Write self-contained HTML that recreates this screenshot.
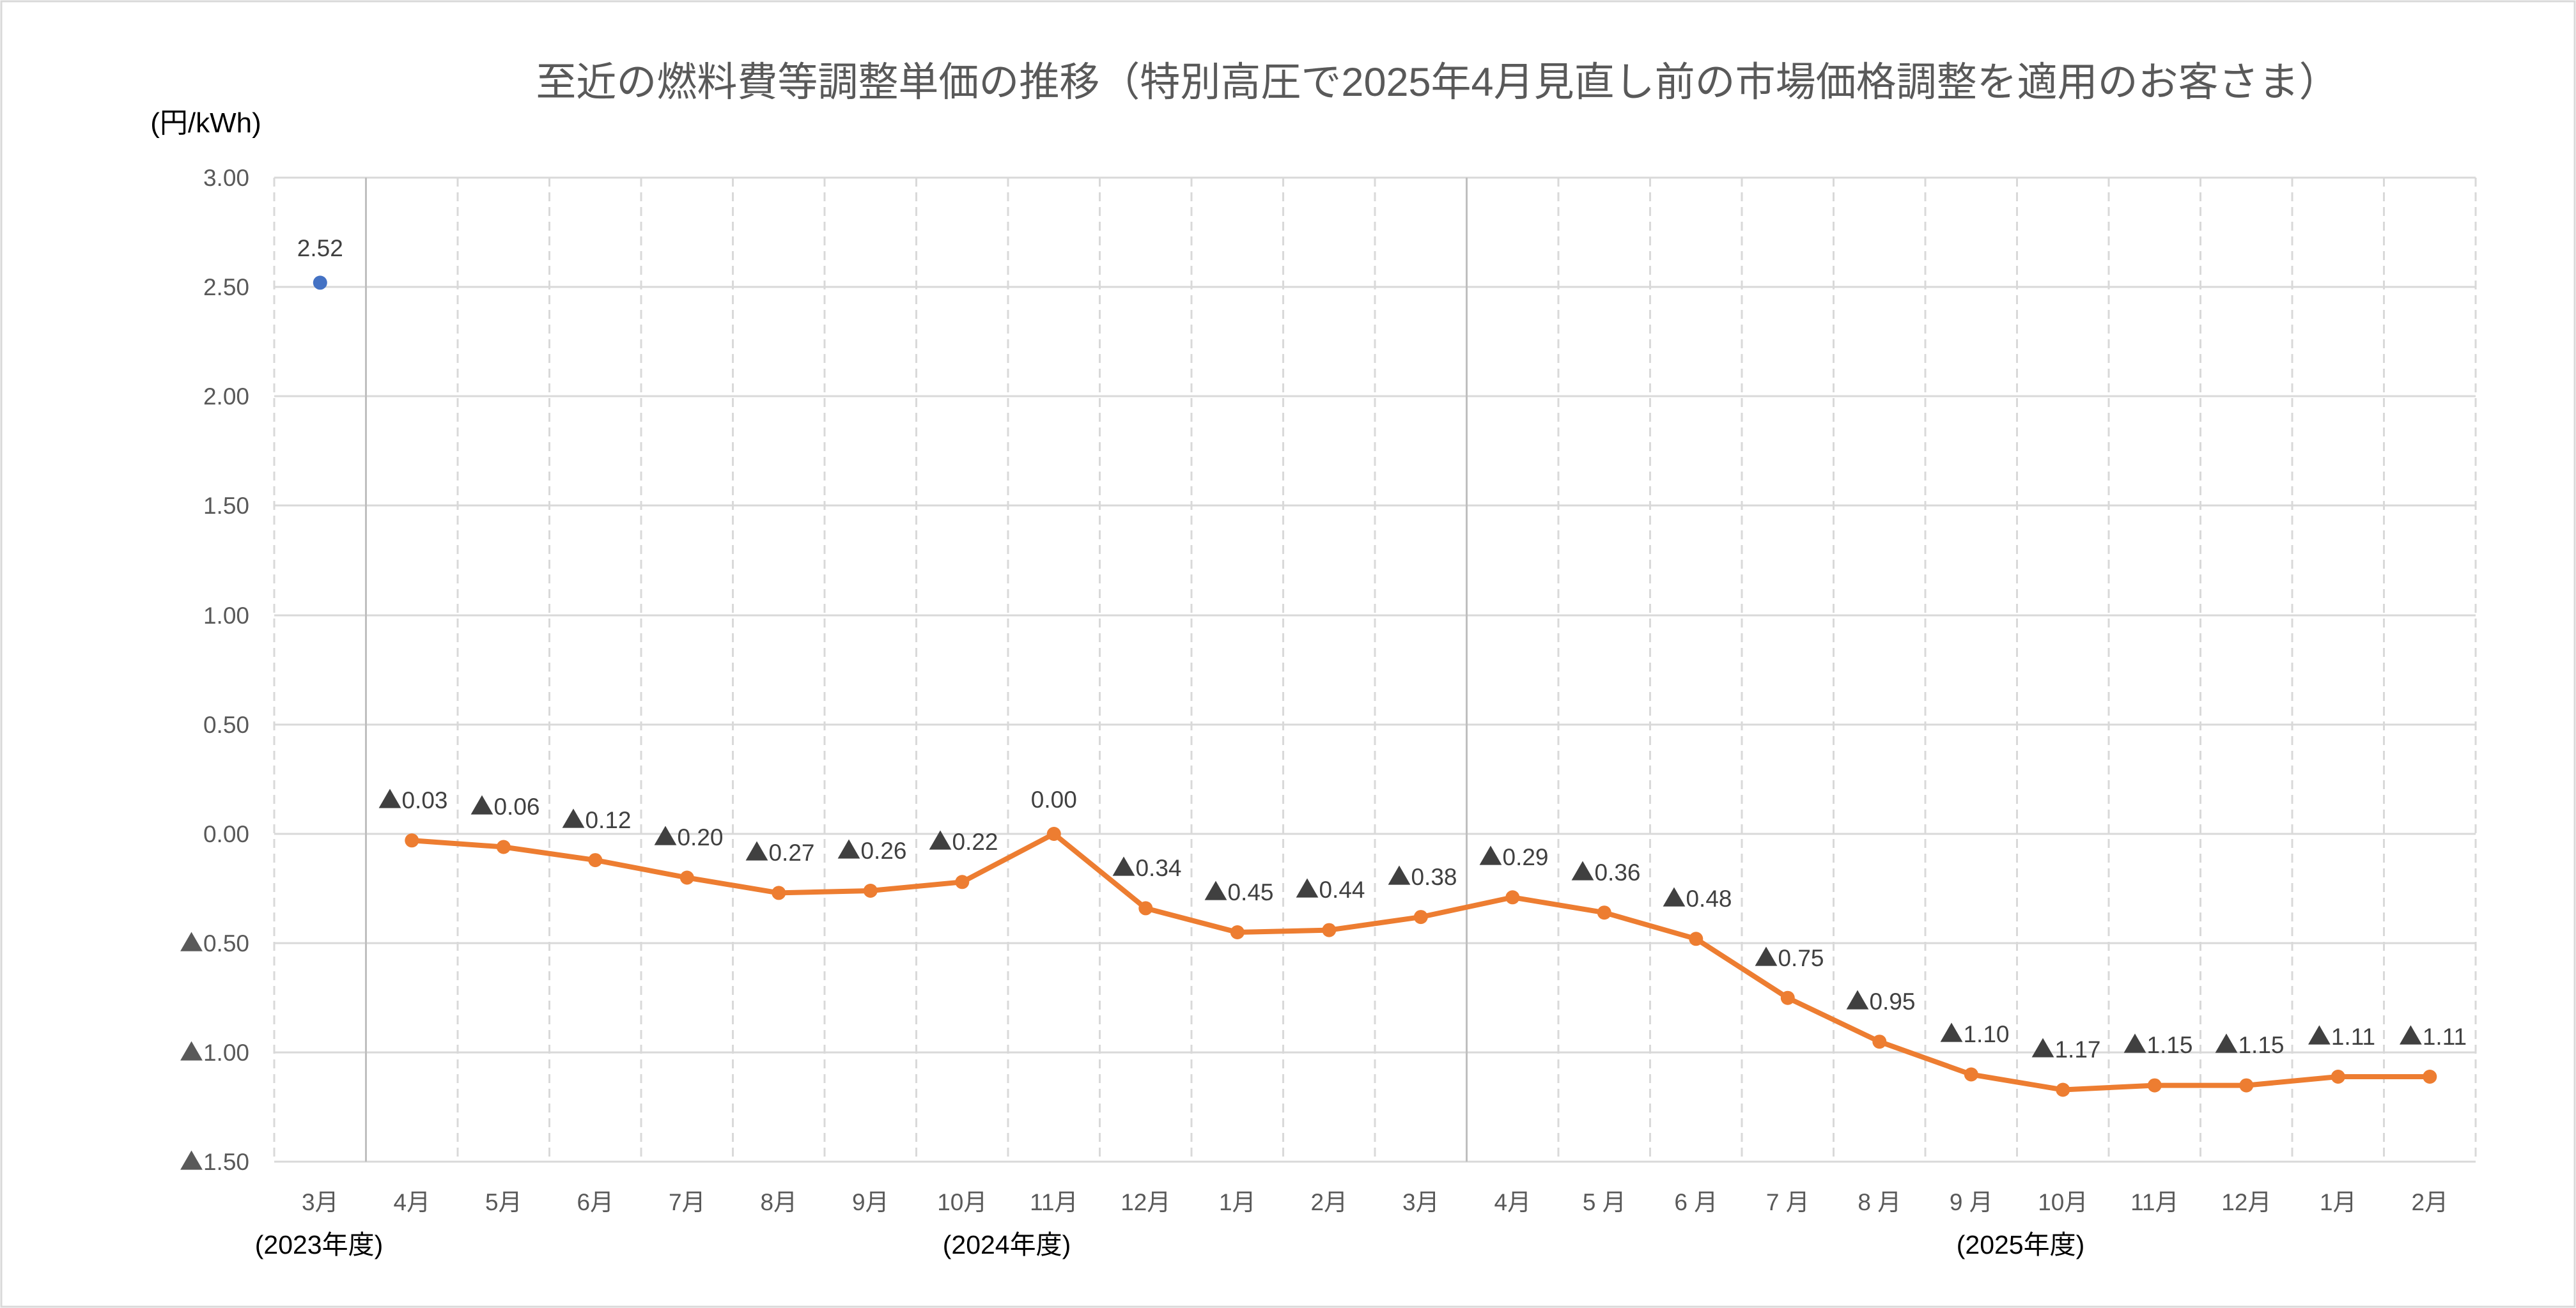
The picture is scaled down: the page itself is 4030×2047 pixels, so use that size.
<!DOCTYPE html>
<html><head><meta charset="utf-8"><style>
html,body{margin:0;padding:0;background:#fff}
svg{display:block}
text{font-family:"Liberation Sans","Noto Sans CJK JP",sans-serif}
.t{font-family:"Noto Sans CJK JP",sans-serif}
</style></head><body>
<svg width="4030" height="2047" viewBox="0 0 4030 2047" xmlns="http://www.w3.org/2000/svg">
<rect x="2" y="2" width="4026" height="2043" fill="#fff" stroke="#d9d9d9" stroke-width="3"/>
<text x="2249" y="150" font-size="63" fill="#595959" text-anchor="middle">至近の燃料費等調整単価の推移（特別高圧で2025年4月見直し前の市場価格調整を適用のお客さま）</text>
<text x="322" y="207" font-size="44" fill="#000" text-anchor="middle">(円/kWh)</text>
<g stroke="#d9d9d9" stroke-width="3">
<line x1="429" y1="278" x2="3873" y2="278"/><line x1="429" y1="449" x2="3873" y2="449"/><line x1="429" y1="620" x2="3873" y2="620"/><line x1="429" y1="791" x2="3873" y2="791"/><line x1="429" y1="963" x2="3873" y2="963"/><line x1="429" y1="1134" x2="3873" y2="1134"/><line x1="429" y1="1305" x2="3873" y2="1305"/><line x1="429" y1="1476" x2="3873" y2="1476"/><line x1="429" y1="1647" x2="3873" y2="1647"/><line x1="429" y1="1818" x2="3873" y2="1818"/>
</g>
<g stroke="#d9d9d9" stroke-width="3" stroke-dasharray="14,9">
<line x1="429" y1="278" x2="429" y2="1818"/><line x1="716" y1="278" x2="716" y2="1818"/><line x1="859.5" y1="278" x2="859.5" y2="1818"/><line x1="1003" y1="278" x2="1003" y2="1818"/><line x1="1146.5" y1="278" x2="1146.5" y2="1818"/><line x1="1290" y1="278" x2="1290" y2="1818"/><line x1="1433.5" y1="278" x2="1433.5" y2="1818"/><line x1="1577" y1="278" x2="1577" y2="1818"/><line x1="1720.5" y1="278" x2="1720.5" y2="1818"/><line x1="1864" y1="278" x2="1864" y2="1818"/><line x1="2007.5" y1="278" x2="2007.5" y2="1818"/><line x1="2151" y1="278" x2="2151" y2="1818"/><line x1="2438" y1="278" x2="2438" y2="1818"/><line x1="2581.5" y1="278" x2="2581.5" y2="1818"/><line x1="2725" y1="278" x2="2725" y2="1818"/><line x1="2868.5" y1="278" x2="2868.5" y2="1818"/><line x1="3012" y1="278" x2="3012" y2="1818"/><line x1="3155.5" y1="278" x2="3155.5" y2="1818"/><line x1="3299" y1="278" x2="3299" y2="1818"/><line x1="3442.5" y1="278" x2="3442.5" y2="1818"/><line x1="3586" y1="278" x2="3586" y2="1818"/><line x1="3729.5" y1="278" x2="3729.5" y2="1818"/><line x1="3873" y1="278" x2="3873" y2="1818"/>
</g>
<g stroke="#bfbfbf" stroke-width="3">
<line x1="572.5" y1="278" x2="572.5" y2="1818"/><line x1="2294.5" y1="278" x2="2294.5" y2="1818"/>
</g>
<g font-size="37" fill="#595959" text-anchor="end">
<text x="390" y="291">3.00</text><text x="390" y="462">2.50</text><text x="390" y="633">2.00</text><text x="390" y="804">1.50</text><text x="390" y="976">1.00</text><text x="390" y="1147">0.50</text><text x="390" y="1318">0.00</text><text x="390" y="1489"><tspan class="t">▲</tspan>0.50</text><text x="390" y="1660"><tspan class="t">▲</tspan>1.00</text><text x="390" y="1831"><tspan class="t">▲</tspan>1.50</text>
</g>
<g font-size="37" fill="#595959" text-anchor="middle">
<text x="500.8" y="1894">3月</text><text x="644.3" y="1894">4月</text><text x="787.8" y="1894">5月</text><text x="931.3" y="1894">6月</text><text x="1074.8" y="1894">7月</text><text x="1218.3" y="1894">8月</text><text x="1361.8" y="1894">9月</text><text x="1505.3" y="1894">10月</text><text x="1648.8" y="1894">11月</text><text x="1792.3" y="1894">12月</text><text x="1935.8" y="1894">1月</text><text x="2079.3" y="1894">2月</text><text x="2222.8" y="1894">3月</text><text x="2366.3" y="1894">4月</text><text x="2509.8" y="1894">5 月</text><text x="2653.3" y="1894">6 月</text><text x="2796.8" y="1894">7 月</text><text x="2940.3" y="1894">8 月</text><text x="3083.8" y="1894">9 月</text><text x="3227.3" y="1894">10月</text><text x="3370.8" y="1894">11月</text><text x="3514.3" y="1894">12月</text><text x="3657.8" y="1894">1月</text><text x="3801.3" y="1894">2月</text>
</g>
<g font-size="41" fill="#000" text-anchor="middle">
<text x="499" y="1962">(2023年度)</text><text x="1575" y="1962">(2024年度)</text><text x="3161" y="1962">(2025年度)</text>
</g>
<polyline fill="none" stroke="#ed7d31" stroke-width="8" stroke-linejoin="round" points="644.3,1315.3 787.8,1325.5 931.3,1346.1 1074.8,1373.5 1218.3,1397.4 1361.8,1394.0 1505.3,1380.3 1648.8,1305 1792.3,1421.4 1935.8,1459.0 2079.3,1455.6 2222.8,1435.1 2366.3,1404.3 2509.8,1428.2 2653.3,1469.3 2796.8,1561.7 2940.3,1630.2 3083.8,1681.5 3227.3,1705.5 3370.8,1698.6 3514.3,1698.6 3657.8,1685.0 3801.3,1685.0"/>
<g fill="#ed7d31">
<circle cx="644.3" cy="1315.3" r="11"/><circle cx="787.8" cy="1325.5" r="11"/><circle cx="931.3" cy="1346.1" r="11"/><circle cx="1074.8" cy="1373.5" r="11"/><circle cx="1218.3" cy="1397.4" r="11"/><circle cx="1361.8" cy="1394.0" r="11"/><circle cx="1505.3" cy="1380.3" r="11"/><circle cx="1648.8" cy="1305" r="11"/><circle cx="1792.3" cy="1421.4" r="11"/><circle cx="1935.8" cy="1459.0" r="11"/><circle cx="2079.3" cy="1455.6" r="11"/><circle cx="2222.8" cy="1435.1" r="11"/><circle cx="2366.3" cy="1404.3" r="11"/><circle cx="2509.8" cy="1428.2" r="11"/><circle cx="2653.3" cy="1469.3" r="11"/><circle cx="2796.8" cy="1561.7" r="11"/><circle cx="2940.3" cy="1630.2" r="11"/><circle cx="3083.8" cy="1681.5" r="11"/><circle cx="3227.3" cy="1705.5" r="11"/><circle cx="3370.8" cy="1698.6" r="11"/><circle cx="3514.3" cy="1698.6" r="11"/><circle cx="3657.8" cy="1685.0" r="11"/><circle cx="3801.3" cy="1685.0" r="11"/>
</g>
<circle cx="500.8" cy="442.4" r="11" fill="#4472c4"/>
<g font-size="37" fill="#404040" text-anchor="middle">
<text x="500.8" y="401">2.52</text>
<text x="646" y="1265"><tspan class="t">▲</tspan>0.03</text><text x="790" y="1275"><tspan class="t">▲</tspan>0.06</text><text x="933" y="1296"><tspan class="t">▲</tspan>0.12</text><text x="1077" y="1323"><tspan class="t">▲</tspan>0.20</text><text x="1220" y="1347"><tspan class="t">▲</tspan>0.27</text><text x="1364" y="1344"><tspan class="t">▲</tspan>0.26</text><text x="1507" y="1330"><tspan class="t">▲</tspan>0.22</text><text x="1648.8" y="1264">0.00</text><text x="1794" y="1371"><tspan class="t">▲</tspan>0.34</text><text x="1938" y="1409"><tspan class="t">▲</tspan>0.45</text><text x="2081" y="1405"><tspan class="t">▲</tspan>0.44</text><text x="2225" y="1385"><tspan class="t">▲</tspan>0.38</text><text x="2368" y="1354"><tspan class="t">▲</tspan>0.29</text><text x="2512" y="1378"><tspan class="t">▲</tspan>0.36</text><text x="2655" y="1419"><tspan class="t">▲</tspan>0.48</text><text x="2799" y="1512"><tspan class="t">▲</tspan>0.75</text><text x="2942" y="1580"><tspan class="t">▲</tspan>0.95</text><text x="3089" y="1631"><tspan class="t">▲</tspan>1.10</text><text x="3232" y="1655"><tspan class="t">▲</tspan>1.17</text><text x="3376" y="1648"><tspan class="t">▲</tspan>1.15</text><text x="3519" y="1648"><tspan class="t">▲</tspan>1.15</text><text x="3663" y="1635"><tspan class="t">▲</tspan>1.11</text><text x="3806" y="1635"><tspan class="t">▲</tspan>1.11</text>
</g>
</svg>
</body></html>
